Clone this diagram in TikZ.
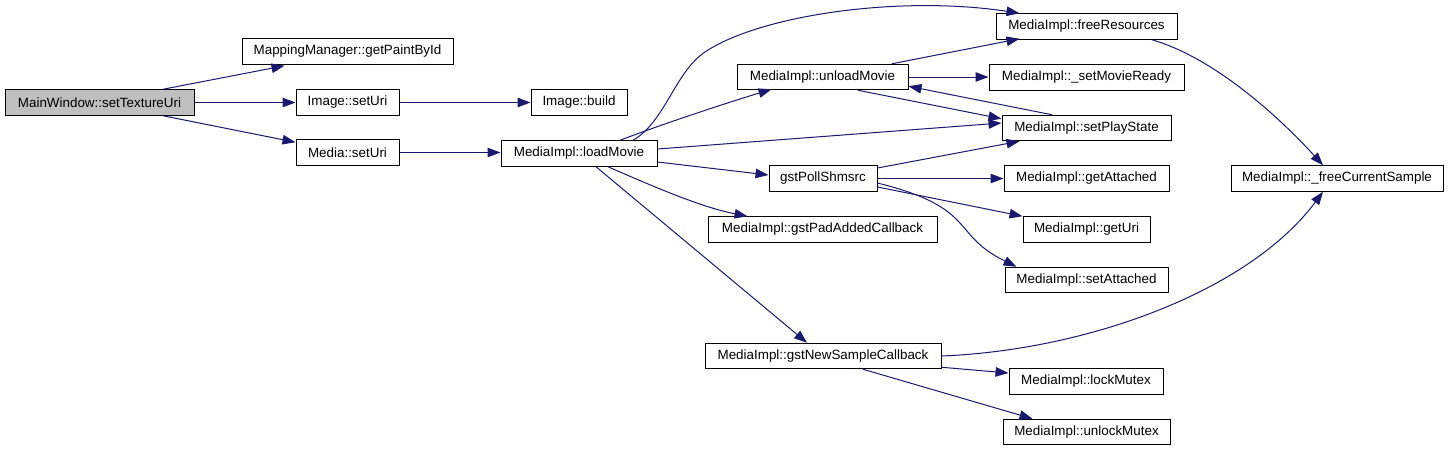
\documentclass[tikz,border=0pt]{standalone}
\usepackage{fontspec}
\setmainfont{Liberation Sans}
\usetikzlibrary{arrows.meta}
\definecolor{edgeblue}{HTML}{191970}
\definecolor{boxgray}{HTML}{BFBFBF}
\begin{document}
\begin{tikzpicture}[x=1pt,y=-1pt,
  box/.style={draw=black,line width=1pt,fill=white,rectangle,inner sep=0pt,minimum height=25.5pt,
    font=\fontsize{13.4pt}{16pt}\selectfont,text=black},
  edge/.style={draw=edgeblue,line width=1pt,-{Triangle[length=13pt,width=9.5pt]}},
]
\useasboundingbox (0,0) rectangle (1448,451);
\fill[white] (0,0) rectangle (1448,451);
% nodes
\node[box,fill=boxgray,minimum width=189pt] (mw) at (99.5,102.5) {MainWindow::setTextureUri};
\node[box,minimum width=211pt] (gpb) at (347.5,51.5) {MappingManager::getPaintById};
\node[box,minimum width=103pt] (isu) at (347.5,102.5) {Image::setUri};
\node[box,minimum width=103pt] (ms) at (347.5,152.5) {Media::setUri};
\node[box,minimum width=96pt] (ib) at (579,102.5) {Image::build};
\node[box,minimum width=156pt] (lm) at (579,153.5) {MediaImpl::loadMovie};
\node[box,minimum width=171pt] (um) at (822.5,77) {MediaImpl::unloadMovie};
\node[box,minimum width=108pt] (gp) at (823,178.5) {gstPollShmsrc};
\node[box,minimum width=229pt] (pa) at (822.5,229.5) {MediaImpl::gstPadAddedCallback};
\node[box,minimum width=236pt] (ns) at (823,356) {MediaImpl::gstNewSampleCallback};
\node[box,minimum width=181pt] (fr) at (1086.5,26.5) {MediaImpl::freeResources};
\node[box,minimum width=195pt] (smr) at (1086.5,77.5) {MediaImpl::\_setMovieReady};
\node[box,minimum width=169pt] (ps) at (1086.5,128) {MediaImpl::setPlayState};
\node[box,minimum width=165pt] (ga) at (1086.5,178.5) {MediaImpl::getAttached};
\node[box,minimum width=127pt] (gu) at (1086.5,229.5) {MediaImpl::getUri};
\node[box,minimum width=163pt] (sa) at (1086.5,280) {MediaImpl::setAttached};
\node[box,minimum width=154pt] (lmx) at (1086,381.5) {MediaImpl::lockMutex};
\node[box,minimum width=167pt] (ulm) at (1086.5,432) {MediaImpl::unlockMutex};
\node[box,minimum width=212pt] (fcs) at (1337,178.5) {MediaImpl::\_freeCurrentSample};
% edges
\draw[edge] ([xshift=63.5pt]mw.north) -- ([xshift=-63pt,yshift=-1pt]gpb.south);
\draw[edge] (mw.east) -- (isu.west);
\draw[edge] ([xshift=63.5pt]mw.south) -- ([yshift=-3pt]ms.north west);
\draw[edge] (isu.east) -- (ib.west);
\draw[edge] (ms.east) -- (ms.east -| lm.west);
\draw[edge] ([xshift=54pt]lm.north) .. controls (665,122) and (675,72) .. (705,52)
  .. controls (760,15) and (900,-5) .. ([xshift=24pt]fr.north west);
\draw[edge] ([xshift=41pt]lm.north) .. controls (660,125) and (720,105) .. ([xshift=35pt,yshift=1pt]um.south west);
\draw[edge] ([xshift=69.5pt]um.north) -- ([xshift=24pt,yshift=1pt]fr.south west);
\draw[edge] (um.east) -- (um.east -| smr.west);
\draw[edge] ([xshift=35.5pt]um.south) -- ([yshift=-4pt]ps.north west);
\draw[edge] ([xshift=-34.5pt]ps.north) -- ([yshift=4pt]um.south east);
\draw[edge] ([yshift=4.5pt]lm.east) -- ([yshift=5pt]ps.west);
\draw[edge] ([yshift=-8.5pt]lm.east) -- ([yshift=3.5pt]gp.west);
\draw[edge] ([xshift=29pt]lm.south) .. controls (650,185) and (700,207) .. ([xshift=40pt]pa.north west);
\draw[edge] ([xshift=17pt]lm.south) -- ([xshift=-16pt]ns.north);
\draw[edge] ([yshift=10.5pt]gp.east) -- ([xshift=18pt]ps.south west);
\draw[edge] (gp.east) -- (ga.west);
\draw[edge] ([yshift=-8.5pt]gp.east) -- (gu.north west);
\draw[edge] ([yshift=-4.5pt]gp.east) .. controls (978,208) and (950,234) .. ([xshift=12pt]sa.north west);
\draw[edge] ([xshift=65.5pt]fr.south) .. controls (1215,58) and (1280,118) .. ([xshift=-14pt]fcs.north);
\draw[edge] (ns.east) .. controls (1090,350) and (1250,290) .. ([xshift=-14pt]fcs.south);
\draw[edge] ([yshift=2pt]ns.south east) -- ([yshift=8.5pt]lmx.west);
\draw[edge] ([xshift=40pt]ns.south) -- ([xshift=30pt]ulm.north west);
\end{tikzpicture}
\end{document}
